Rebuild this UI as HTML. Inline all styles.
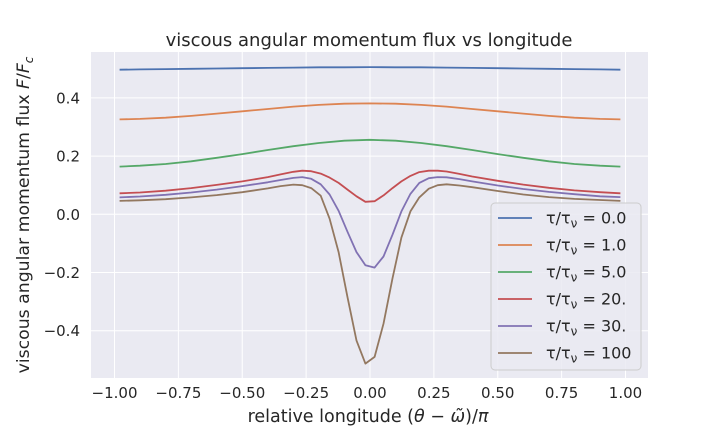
<!DOCTYPE html>
<html><head><meta charset="utf-8"><style>
body{margin:0;background:#fff;}
svg{display:block;font-family:"DejaVu Sans","Liberation Sans",sans-serif;}
</style></head><body>
<svg id="chart" width="720" height="432" viewBox="0 0 720 432" xmlns="http://www.w3.org/2000/svg">
<rect x="91" y="52" width="557" height="326" fill="#eaeaf2"/>
<g id="grid"></g>
<g id="series"></g>
<g id="ticks"></g>
<text x="369" y="46" text-anchor="middle" font-size="18" fill="#262626">viscous angular momentum flux vs longitude</text>
<text x="368" y="422" text-anchor="middle" font-size="17.5" fill="#262626">relative longitude (<tspan font-style="italic">θ</tspan> − <tspan font-style="italic">ω̃</tspan>)/<tspan font-style="italic">π</tspan></text>
<text transform="translate(29,215) rotate(-90)" text-anchor="middle" font-size="17.3" fill="#262626">viscous angular momentum flux <tspan font-style="italic">F</tspan>/<tspan font-style="italic">F</tspan><tspan font-size="12" dy="4" font-style="italic">c</tspan></text>
<g id="legend">
<rect x="491" y="203" width="150" height="167" rx="4" fill="#eaeaf2" fill-opacity="0.85" stroke="#cccccc" stroke-width="1"/>
</g>
</svg>
<script>
const xSmooth=[-0.98,-0.9,-0.8,-0.7,-0.6,-0.5,-0.4,-0.3,-0.2,-0.1,0,0.1,0.2,0.3,0.4,0.5,0.6,0.7,0.8,0.9,0.98];
const tau0=[.497,.498,.499,.500,.501,.502,.503,.504,.505,.505,.506,.505,.505,.504,.503,.502,.501,.500,.499,.498,.497];
const tau1=[.326,.328,.332,.338,.346,.354,.362,.370,.376,.380,.381,.380,.376,.370,.362,.354,.346,.338,.332,.328,.326];
const tau5=[.164,.167,.173,.182,.194,.207,.221,.234,.245,.253,.256,.253,.245,.234,.221,.207,.194,.182,.173,.167,.164];
const xDip=[-0.98,-0.9,-0.8,-0.7,-0.6,-0.5,-0.4,-0.35,-0.3,-0.265,-0.23,-0.193,-0.158,-0.123,-0.088,-0.053,-0.018,0.018,0.053,0.088,0.123,0.158,0.193,0.23,0.265,0.3,0.35,0.4,0.5,0.6,0.7,0.8,0.9,0.98];
const tau20=[.072,.075,.081,.090,.101,.113,.128,.137,.146,.150,.148,.140,.126,.108,.085,.062,.043,.045,.065,.090,.113,.132,.145,.150,.150,.147,.139,.130,.115,.102,.091,.082,.076,.072];
const tau30=[.058,.061,.067,.075,.085,.097,.110,.118,.125,.128,.122,.103,.068,.012,-.06,-.13,-.175,-.183,-.145,-.07,.01,.07,.108,.124,.128,.127,.121,.113,.099,.087,.077,.069,.062,.059];
const tau100=[.046,.048,.052,.058,.066,.076,.089,.097,.102,.100,.090,.064,-.015,-.13,-.285,-.434,-.513,-.49,-.376,-.22,-.08,.01,.058,.088,.100,.103,.099,.093,.080,.068,.059,.053,.049,.046];
const xTicks=[-1,-0.75,-0.5,-0.25,0,0.25,0.5,0.75,1];
const xTickLabels=["−1.00","−0.75","−0.50","−0.25","0.00","0.25","0.50","0.75","1.00"];
const yTicks=[-0.4,-0.2,0,0.2,0.4];
const yTickLabels=["−0.4","−0.2","0.0","0.2","0.4"];
const seriesValues=["0.0","1.0","5.0","20.","30.","100"];

const NS="http://www.w3.org/2000/svg";
const sx=v=>370+v*255.5;
const sy=v=>214.3-v*291;
const grid=document.getElementById('grid'),ticks=document.getElementById('ticks');
xTicks.forEach((t,i)=>{
 const l=document.createElementNS(NS,'line');
 l.setAttribute('x1',sx(t));l.setAttribute('x2',sx(t));l.setAttribute('y1',52);l.setAttribute('y2',378);
 l.setAttribute('stroke','#fff');l.setAttribute('stroke-width','1');
 
 
 grid.appendChild(l);
 const tx=document.createElementNS(NS,'text');
 tx.setAttribute('x',sx(t));tx.setAttribute('y',398);tx.setAttribute('text-anchor','middle');
 tx.setAttribute('font-size','15');tx.setAttribute('fill','#262626');tx.textContent=xTickLabels[i];
 
 
 ticks.appendChild(tx);
});
yTicks.forEach((t,i)=>{
 const l=document.createElementNS(NS,'line');
 l.setAttribute('x1',91);l.setAttribute('x2',648);l.setAttribute('y1',sy(t));l.setAttribute('y2',sy(t));
 l.setAttribute('stroke','#fff');l.setAttribute('stroke-width','1');
 
 
 grid.appendChild(l);
 const tx=document.createElementNS(NS,'text');
 tx.setAttribute('x',80);tx.setAttribute('y',sy(t)+5.5);tx.setAttribute('text-anchor','end');
 tx.setAttribute('font-size','15');tx.setAttribute('fill','#262626');tx.textContent=yTickLabels[i];
 
 
 ticks.appendChild(tx);
});
const colors=['#4c72b0','#dd8452','#55a868','#c44e52','#8172b3','#937860'];
const all=[[xSmooth,tau0],[xSmooth,tau1],[xSmooth,tau5],[xDip,tau20],[xDip,tau30],[xDip,tau100]];
const sg=document.getElementById('series');
all.forEach((s,k)=>{
 const p=document.createElementNS(NS,'polyline');
 p.setAttribute('points',s[0].map((x,i)=>sx(x).toFixed(1)+','+sy(s[1][i]).toFixed(1)).join(' '));
 p.setAttribute('fill','none');p.setAttribute('stroke',colors[k]);p.setAttribute('stroke-width','1.8');
 p.setAttribute('stroke-linejoin','round');
 
 
 sg.appendChild(p);
});
const lg=document.getElementById('legend');
seriesValues.forEach((n,k)=>{
 const y=218+k*27;
 const l=document.createElementNS(NS,'line');
 l.setAttribute('x1',498);l.setAttribute('x2',532);l.setAttribute('y1',y);l.setAttribute('y2',y);
 l.setAttribute('stroke',colors[k]);l.setAttribute('stroke-width','1.8');
 
 
 lg.appendChild(l);
 const t=document.createElementNS(NS,'text');
 t.setAttribute('x',546);t.setAttribute('y',y+5.5);t.setAttribute('font-size','16');t.setAttribute('fill','#262626');
 t.innerHTML='τ/τ<tspan font-size="12" dy="4">ν</tspan><tspan dy="-4"> = '+n+'</tspan>';
 
 
 lg.appendChild(t);
});
</script>
</body></html>
